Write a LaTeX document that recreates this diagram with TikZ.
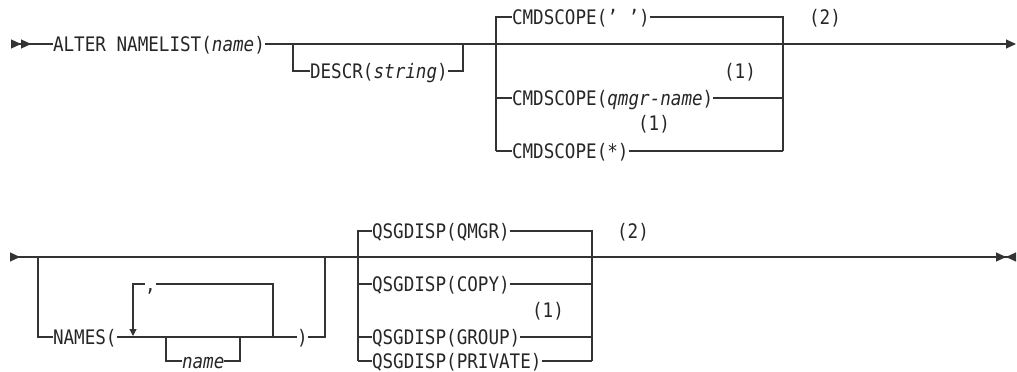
\documentclass[tikz,border=0pt]{standalone}
\usepackage{fontspec}
\setmonofont[FakeStretch=0.88]{DejaVu Sans Mono}
\usetikzlibrary{arrows.meta,positioning}
\tikzset
{
    kw/.style   = {font=\ttfamily\fontsize{20}{20}\selectfont, text=black!85, inner sep=0pt, outer sep=0pt, text height=14.5pt, text depth=0pt, anchor=west},
    note/.style = {kw, anchor=center},
    rail/.style = {line width=1.2pt, draw=black!80},
}

\begin{document}
\begin{tikzpicture}[x=1pt, y=-1pt]
\useasboundingbox (0,0) rectangle (1017,372);
% first line
\coordinate (s1) at (11,44);
\coordinate (e1) at (1016,44);
\node(alter) [kw] at (53,44) {ALTER NAMELIST(\textit{name})};
\node(descr) [kw] at (310,71) {DESCR(\textit{string})};
\node(csA) [kw] at (512,17) {CMDSCOPE(’ ’)};
\node(csB) [kw] at (512,98) {CMDSCOPE(\textit{qmgr-name})};
\node(csC) [kw] at (512,151) {CMDSCOPE(*)};
\node(nA) [note] at (740,71) {(1)};
\node(nB) [note] at (654,123) {(1)};
\node(nC) [note] at (825,17) {(2)};
\draw[rail,{Triangle[length=10pt,width=9pt,reversed,sep=0pt]Triangle[length=10pt,width=9pt,reversed]}-] (s1) -- (alter.west);
\draw[rail,-{Triangle[length=10pt,width=9pt]}] (alter.east) -- (e1);
\draw[rail] (293,44) |- (descr.west);
\draw[rail] (descr.east) -| (463,44);
\draw[rail] (496,151) |- (csA.west);
\draw[rail] (496,98) -- (csB.west);
\draw[rail] (496,151) -- (csC.west);
\draw[rail] (csA.east) -| (783,151);
\draw[rail] (csB.east) -- (783,98);
\draw[rail] (csC.east) -- (783,151);
% second line
\coordinate (s2) at (10,257);
\coordinate (e2) at (1016,257);
\node(names) [kw] at (53,337) {NAMES(};
\node(comma) [kw] at (145,284) {,};
\node(nm) [kw] at (182,361) {\textit{name}};
\node(close) [kw] at (297,337) {)};
\node(qA) [kw] at (372,231) {QSGDISP(QMGR)};
\node(qB) [kw] at (372,284) {QSGDISP(COPY)};
\node(qC) [kw] at (372,337) {QSGDISP(GROUP)};
\node(qD) [kw] at (372,361) {QSGDISP(PRIVATE)};
\node(nD) [note] at (548,310) {(1)};
\node(nE) [note] at (633,231) {(2)};
\draw[rail,{Triangle[length=10pt,width=9pt,reversed]}-{Triangle[length=10pt,width=9pt,sep=0pt]Triangle[length=10pt,width=9pt,reversed]}] (s2) -- (e2);
\draw[rail] (38,257) |- (names.west);
\draw[rail] (names.east) -- (close.west);
\draw[rail,-{Triangle[length=7pt,width=7pt]}] (comma.west) -| (133,336);
\draw[rail] (comma.east) -| (273,337);
\draw[rail] (166,337) |- (nm.west);
\draw[rail] (nm.east) -| (240,337);
\draw[rail] (close.east) -| (325,257);
\draw[rail] (358,361) |- (qA.west);
\draw[rail] (358,284) -- (qB.west);
\draw[rail] (358,337) -- (qC.west);
\draw[rail] (358,361) -- (qD.west);
\draw[rail] (qA.east) -| (592,361);
\draw[rail] (qB.east) -- (592,284);
\draw[rail] (qC.east) -- (592,337);
\draw[rail] (qD.east) -- (592,361);
\end{tikzpicture}
\end{document}
